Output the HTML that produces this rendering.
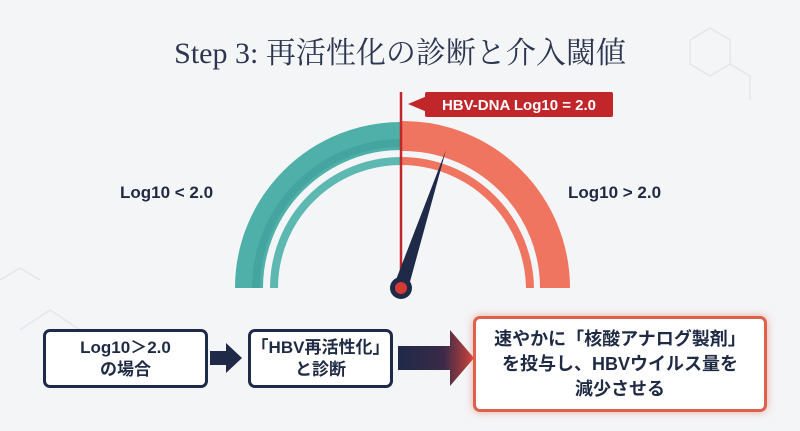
<!DOCTYPE html>
<html><head><meta charset="utf-8"><style>
body{margin:0;width:800px;height:431px;background:#f4f5f7;overflow:hidden;position:relative;font-family:"Liberation Sans","Noto Sans CJK JP",sans-serif;color:#1f2a44}
.t{position:absolute;left:0;width:800px;text-align:center;top:28px;font-size:30px;font-family:"Liberation Serif","Noto Serif CJK SC",serif;color:#2d3650}
.lab{position:absolute;font-weight:bold;font-size:17px;color:#1f2a44}
.box{position:absolute;background:#fff;border:3px solid #1e2a48;border-radius:7px;display:flex;align-items:center;justify-content:center;text-align:center;font-weight:bold;font-size:17px;line-height:22px;color:#1f2a44;box-sizing:border-box}
</style></head><body>
<div class="t">Step 3: 再活性化の診断と介入閾値</div>
<svg width="800" height="431" style="position:absolute;left:0;top:0">
<defs>
<linearGradient id="ar" x1="0" x2="1"><stop offset="0" stop-color="#1e2a48"/><stop offset="0.6" stop-color="#3a2a48"/><stop offset="1" stop-color="#d0453a"/></linearGradient>
</defs>
<g stroke="#e3e6ea" stroke-width="1.5" fill="none">
<path d="M690 40 l20 -12 l20 12 v24 l-20 12 l-20 -12z M730 64 l20 12 v24"/>
<path d="M20 330 l30 -20 l30 20 M0 280 l20 -12 l20 12"/>
</g>
<path d="M249 288 A152 152 0 0 1 401 136" fill="none" stroke="#4fb0aa" stroke-width="28"/>
<path d="M256 288 A145 145 0 0 1 401 143" fill="none" stroke="#3e9e9a" stroke-width="8" opacity="0.6"/>
<path d="M401 136 A152 152 0 0 1 555 288" fill="none" stroke="#f07560" stroke-width="30"/>
<path d="M274 288 A127 127 0 0 1 401 161" fill="none" stroke="#5db8b2" stroke-width="8"/>
<path d="M401 161 A129 129 0 0 1 530 288" fill="none" stroke="#f07560" stroke-width="8"/>
<line x1="401" y1="92" x2="401" y2="284" stroke="#c0262a" stroke-width="2.5"/>
<polygon points="408,104 427,96 427,112" fill="#c0262a"/>
<rect x="425" y="92" width="188" height="25" rx="2" fill="#c0262a"/>
<text x="519" y="110" text-anchor="middle" fill="#fff" font-weight="bold" font-size="15" font-family="Liberation Sans,sans-serif">HBV-DNA Log10 = 2.0</text>
<polygon points="446,150 408,289 394,285" fill="#1e2a48"/>
<circle cx="401" cy="288" r="11" fill="#1e2a48"/>
<circle cx="401" cy="288" r="6" fill="#d63a34"/>
<polygon points="210,351 226,351 226,343 242,358 226,373 226,365 210,365" fill="#1e2a48"/>
<polygon points="398,346 450,346 450,330 474,358 450,386 450,370 398,370" fill="url(#ar)"/>
</svg>
<div class="lab" style="left:120px;top:183px">Log10 &lt; 2.0</div>
<div class="lab" style="left:568px;top:183px">Log10 &gt; 2.0</div>
<div class="box" style="left:43px;top:329px;width:165px;height:59px">Log10＞2.0<br>の場合</div>
<div class="box" style="left:248px;top:329px;width:145px;height:59px">「HBV再活性化」<br>と診断</div>
<div class="box" style="left:473px;top:316px;width:294px;height:96px;border-color:#e0604e;box-shadow:0 0 8px rgba(224,96,78,.5);font-size:18px;line-height:25px">速やかに「核酸アナログ製剤」<br>を投与し、HBVウイルス量を<br>減少させる</div>
</body></html>
